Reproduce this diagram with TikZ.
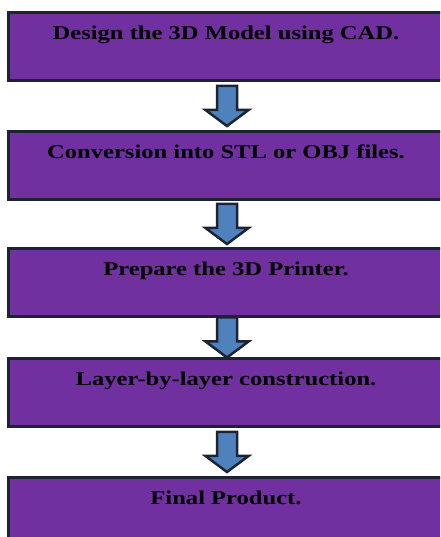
\documentclass[tikz,border=0pt]{standalone}
\usepackage{fontspec}
\setmainfont{Liberation Serif}
\usetikzlibrary{calc}

\definecolor{stepfill}{HTML}{7030A0}
\definecolor{stepline}{HTML}{1C2333}
\definecolor{arrowfill}{HTML}{4F81BD}

% wide bold lettering
\newcommand{\widetext}[1]{\scalebox{1.26}[1]{#1}}
% block arrow centred in the gap between two boxes
\newcommand{\gaparrow}[2]{%
  \path (#1.south) -- (#2.north) coordinate[midway] (#1-#2);
  \draw[blockarrow] ($(#1-#2)+(-9,20)$) -- ++(20,0) -- ++(0,-24) -- ++(11.5,0)
    -- ($(#1-#2)+(1,-20)$) -- ++(-21.5,16) -- ++(11.5,0) -- cycle;}

\begin{document}
\begin{tikzpicture}[x=1pt,y=1pt,
    stepbox/.style={draw=stepline, line width=3pt, fill=stepfill,
      minimum width=436pt, minimum height=68pt, inner ysep=11.5pt,
      text height=16pt, text depth=29pt, anchor=north,
      font=\fontsize{19.5}{22}\selectfont\bfseries},
    blockarrow/.style={draw=stepline, line width=2.5pt, fill=arrowfill, line join=miter}]
  \useasboundingbox (0,0) rectangle (440,537);
  \clip (0,0) rectangle (440,537);

  \node[stepbox] (design)  at (226,526) {\widetext{Design the 3D Model using CAD.}};
  \node[stepbox] (convert) at (226,407) {\widetext{Conversion into STL or OBJ files.}};
  \node[stepbox] (prepare) at (226,290) {\widetext{Prepare the 3D Printer.}};
  \node[stepbox] (layers)  at (226,180) {\widetext{Layer-by-layer construction.}};
  \node[stepbox] (product) at (226,61)  {\widetext{Final Product.}};

  \gaparrow{design}{convert}
  \gaparrow{convert}{prepare}
  \gaparrow{prepare}{layers}
  \gaparrow{layers}{product}
\end{tikzpicture}
\end{document}
